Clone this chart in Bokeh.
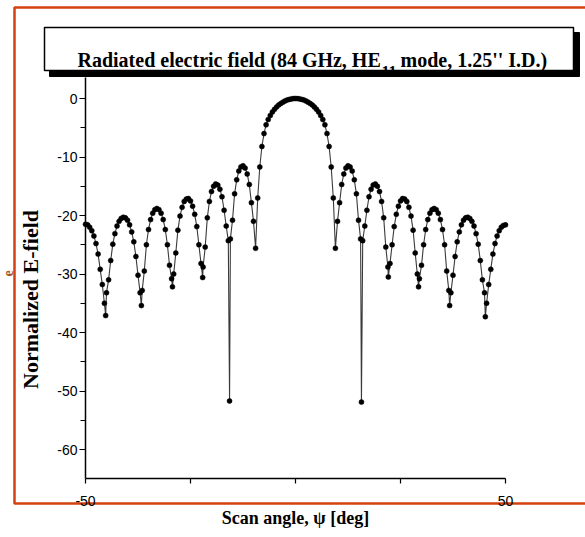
import math
from bokeh.plotting import figure
from bokeh.models import ColumnDataSource, FixedTicker, BoxAnnotation, Label, Range1d
from bokeh.embed import file_html
from bokeh.resources import INLINE

# ---------------- data ----------------
scan_angle = [
    -50, -49.5, -49, -48.5, -48, -47.5, -47, -46.5, -46, -45.5, -45.2, -45, -44.5, -44,
    -43.5, -43, -42.5, -42, -41.5, -41, -40.5, -40, -39.5, -39, -38.5, -38, -37.5, -37,
    -36.7, -36.5, -36, -35.5, -35, -34.5, -34, -33.5, -33, -32.5, -32, -31.5, -31, -30.5,
    -30, -29.5, -29.3, -29, -28.5, -28, -27.5, -27, -26.5, -26, -25.5, -25, -24.5, -24,
    -23.5, -23, -22.5, -22.1, -22, -21.5, -21, -20.5, -20, -19.5, -19, -18.5, -18, -17.5,
    -17, -16.5, -16, -15.7, -15.5, -15, -14.5, -14, -13.5, -13, -12.5, -12, -11.5, -11,
    -10.5, -10, -9.5, -9, -8.5, -8, -7.5, -7, -6.5, -6, -5.5, -5, -4.5, -4, -3.5, -3,
    -2.5, -2, -1.5, -1, -0.5, 0,
    0.5, 1, 1.5, 2, 2.5, 3, 3.5, 4, 4.5, 5, 5.5, 6, 6.5, 7, 7.5, 8, 8.5, 9, 9.5, 10,
    10.5, 11, 11.5, 12, 12.5, 13, 13.5, 14, 14.5, 15, 15.5, 15.7, 16, 16.5, 17, 17.5, 18,
    18.5, 19, 19.5, 20, 20.5, 21, 21.5, 22, 22.1, 22.5, 23, 23.5, 24, 24.5, 25, 25.5, 26,
    26.5, 27, 27.5, 28, 28.5, 29, 29.3, 29.5, 30, 30.5, 31, 31.5, 32, 32.5, 33, 33.5, 34,
    34.5, 35, 35.5, 36, 36.5, 36.7, 37, 37.5, 38, 38.5, 39, 39.5, 40, 40.5, 41, 41.5, 42,
    42.5, 43, 43.5, 44, 44.5, 45, 45.2, 45.5, 46, 46.5, 47, 47.5, 48, 48.5, 49, 49.5, 50,
]
e_field_db = [
    -21.5, -21.6, -22.0, -22.6, -23.5, -24.8, -26.6, -29.2, -31.8, -35.0, -37.1, -33.2, -31.0, -27.7,
    -24.9, -23.1, -21.8, -21.0, -20.5, -20.3, -20.4, -20.8, -21.6, -22.8, -24.5, -27.0, -30.2, -33.2,
    -35.4, -32.8, -29.5, -25.0, -22.4, -20.7, -19.6, -19.0, -18.8, -19.0, -19.6, -20.7, -22.4, -25.0,
    -28.5, -30.8, -32.2, -30.0, -26.4, -22.5, -20.1, -18.6, -17.6, -17.2, -17.1, -17.5, -18.4, -19.8,
    -21.9, -25.0, -28.2, -30.6, -28.8, -25.4, -20.4, -17.6, -15.9, -15.0, -14.6, -14.8, -15.5, -16.8,
    -19.1, -21.8, -24.3, -51.7, -24.0, -20.8, -16.3, -13.9, -12.4, -11.7, -11.5, -11.9, -12.9, -14.7,
    -17.8, -21.0, -25.6, -17.0, -11.7, -8.2, -6.0, -4.5, -3.6, -2.9, -2.3, -1.85, -1.45, -1.1, -0.85, -0.62,
    -0.42, -0.26, -0.15, -0.07, -0.02, 0.0,
    -0.02, -0.07, -0.15, -0.26, -0.42, -0.62, -0.85, -1.1, -1.45, -1.85, -2.3, -2.9, -3.6, -4.5, -6.0, -8.2, -11.7, -17.0, -25.6, -21.0,
    -17.8, -14.7, -12.9, -11.9, -11.5, -11.7, -12.4, -13.9, -16.3, -20.8, -24.0, -51.9, -24.3, -21.8, -19.1, -16.8, -15.5,
    -14.8, -14.6, -15.0, -15.9, -17.6, -20.4, -25.4, -28.8, -30.5, -28.2, -25.0, -21.9, -19.8, -18.4, -17.5, -17.1, -17.2,
    -17.6, -18.6, -20.1, -22.5, -26.4, -30.0, -32.2, -30.8, -28.5, -25.0, -22.4, -20.7, -19.6, -19.0, -18.8, -19.0, -19.6,
    -20.7, -22.4, -25.0, -29.5, -32.8, -35.4, -33.2, -30.2, -27.0, -24.5, -22.8, -21.6, -20.8, -20.4, -20.3, -20.5, -21.0,
    -21.8, -23.1, -24.9, -27.7, -31.0, -33.2, -37.3, -35.0, -31.8, -29.2, -26.6, -24.8, -23.5, -22.6, -22.0, -21.7, -21.6,
]

x_ticks = [-50, -25, 0, 25, 50]
x_tick_labels = ["-50", "", "", "", "50"]
y_ticks = [0, -10, -20, -30, -40, -50, -60]
y_tick_labels = ["0", "-10", "-20", "-30", "-40", "-50", "-60"]
y_minor_ticks = [-5, -15, -25, -35, -45, -55]

title_main = "Radiated electric field (84 GHz, HE"
title_sub = "11"
title_tail = "mode, 1.25'' I.D.)"
x_label = "Scan angle, \u03c8 [deg]"
y_label = "Normalized E-field"

# ---------------- geometry (canvas pixels) ----------------
W, H = 585, 537
PX_LEFT, PX_RIGHT = 85, 505        # pixel of x = -50 and x = 50
PY_ZERO, PY_PER_UNIT = 98, 5.85    # pixel of y = 0, pixels per dB
XMIN, XMAX, YMIN, YTOP = -50, 50, -65, 3.6

ppx = (PX_RIGHT - PX_LEFT) / (XMAX - XMIN)
x0 = XMIN - PX_LEFT / ppx
x1 = XMAX + (W - PX_RIGHT) / ppx
y1 = PY_ZERO / PY_PER_UNIT
y0 = -(H - PY_ZERO) / PY_PER_UNIT

src = ColumnDataSource(data=dict(x=scan_angle, y=e_field_db))

p = figure(width=W, height=H, x_range=Range1d(x0, x1), y_range=Range1d(y0, y1),
           output_backend="svg", toolbar_location=None, title=None,
           min_border_left=0, min_border_right=0, min_border_top=0, min_border_bottom=0)
p.background_fill_color = "white"
p.border_fill_color = "white"
p.outline_line_color = None
p.grid.visible = False

ORANGE = "#d4410f"


def scr(x, y):
    """canvas pixel (from top-left) -> screen units (from bottom-left)"""
    return x, H - y


def add_box(px0, py0, px1, py1, fill, line, width, level="annotation"):
    l, t = scr(px0, py0)
    r, b = scr(px1, py1)
    p.add_layout(BoxAnnotation(left=l, right=r, top=t, bottom=b,
                               left_units="screen", right_units="screen",
                               top_units="screen", bottom_units="screen",
                               fill_color=fill, fill_alpha=1 if fill else 0,
                               line_color=line, line_alpha=1, line_width=width,
                               level=level))


# outer orange frame (behind the axes)
add_box(14, 7, 600, 503, None, ORANGE, 2.5, level="underlay")

p.line("x", "y", source=src, line_color="#3a3a3a", line_width=1.1)
p.scatter("x", "y", source=src, size=5, fill_color="black", line_color="black", line_width=0.5)

tick_font = "Liberation Sans"
xa = p.xaxis[0]
xa.fixed_location = YMIN
xa.bounds = (XMIN, XMAX)
xa.ticker = FixedTicker(ticks=x_ticks)
xa.major_label_overrides = {t_: l_ for t_, l_ in zip(x_ticks, x_tick_labels)}
xa.major_tick_out = 5
xa.major_tick_in = 0
xa.minor_tick_line_color = None
xa.axis_line_width = 1.5
xa.major_tick_line_width = 1.2
xa.major_label_text_font = tick_font
xa.major_label_text_font_size = "14px"
xa.major_label_text_color = "black"
xa.major_label_standoff = 12

ya = p.yaxis[0]
ya.fixed_location = XMIN
ya.bounds = (YMIN, YTOP)
ya.ticker = FixedTicker(ticks=y_ticks, minor_ticks=y_minor_ticks)
ya.major_label_overrides = {t_: l_ for t_, l_ in zip(y_ticks, y_tick_labels)}
ya.major_tick_out = 6
ya.major_tick_in = 0
ya.minor_tick_out = 5
ya.minor_tick_in = 0
ya.axis_line_width = 1.5
ya.major_tick_line_width = 1.2
ya.minor_tick_line_width = 1.2
ya.major_label_text_font = tick_font
ya.major_label_text_font_size = "14px"
ya.major_label_text_color = "black"
ya.major_label_standoff = 2

# title box with its shadow
add_box(49, 32, 579, 76, "black", "black", 1)
add_box(44, 27, 573, 70, "white", "black", 1.5)

tfont = "Liberation Serif"


def add_label(text, px, py, size, angle=0.0, align="left", baseline="alphabetic",
              color="black", style="bold"):
    sx, sy = scr(px, py)
    p.add_layout(Label(x=sx, y=sy, x_units="screen", y_units="screen", text=text,
                       angle=angle, text_font=tfont, text_font_style=style,
                       text_font_size=size, text_align=align, text_baseline=baseline,
                       text_color=color))


add_label(title_main, 77, 59, "20px")
add_label(title_sub, 381, 71, "16px")
add_label(title_tail, 400, 59, "20px")
add_label(y_label, 30, 299, "22px", angle=math.pi / 2, align="center", baseline="middle")
add_label(x_label, 295, 517, "18px", align="center", baseline="middle")
add_label("e", 2, 273, "14px", angle=math.pi / 2, align="center", baseline="top",
          color="#a65a1e")

open("out.html", "w").write(file_html(p, INLINE))
